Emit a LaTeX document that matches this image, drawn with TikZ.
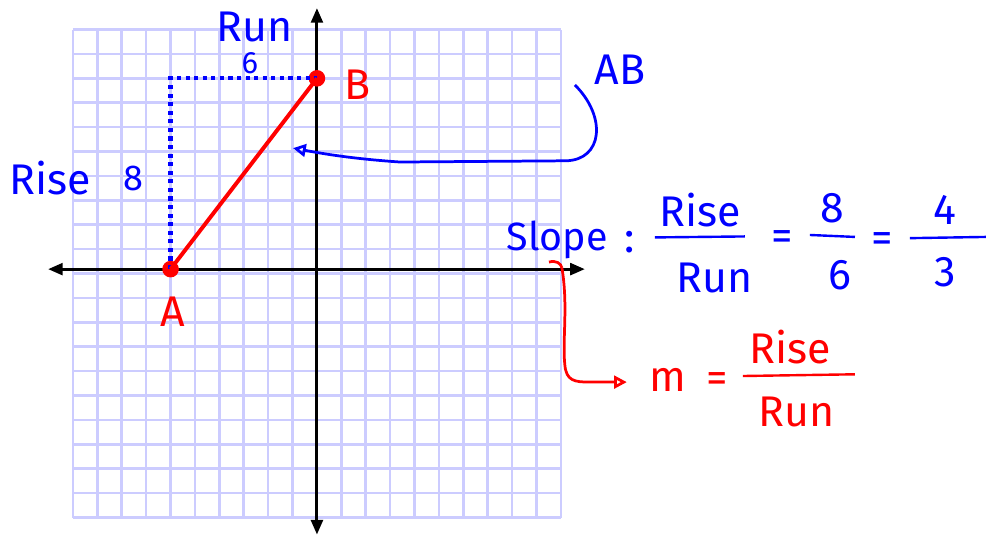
\documentclass[tikz,border=0pt]{standalone}
\usepackage{fontspec}
\setmainfont{Fira Sans}
\usetikzlibrary{arrows.meta,positioning}
\definecolor{gridblue}{RGB}{204,204,255}

\begin{document}
\begin{tikzpicture}[
  x=0.5cm, y=0.5cm,
  gridline/.style={gridblue, line width=1.5pt},
  axis/.style={line width=1.8pt, {Triangle[length=3mm,width=2.4mm]}-{Triangle[length=3mm,width=2.4mm]}},
  dotpt/.style={circle, fill=red, inner sep=0pt, minimum size=3.4mm},
  bluetext/.style={text=blue, inner sep=1pt, font=\fontsize{25}{28}\selectfont},
  redtext/.style={text=red, inner sep=1pt, font=\fontsize{25}{28}\selectfont},
  smalltext/.style={text=blue, inner sep=1pt, font=\fontsize{18}{22}\selectfont},
  fracbar/.style={line width=1.4pt},
  dots/.style={blue, line width=2.4pt, dash pattern=on 2.4pt off 2.6pt},
  pen/.style={line width=1.6pt}
]
  \useasboundingbox (-12.99,-10.76) rectangle (27.42,11.21);

  % grid
  \foreach \i in {-10,...,10} {
    \draw[gridline] (\i,-10) -- (\i,10);
    \draw[gridline] (-10,\i) -- (10,\i);
  }

  % axes
  \coordinate (xl) at (-11.02,0.18);
  \coordinate (xr) at (10.98,0.18);
  \coordinate (yt) at (0,10.88);
  \coordinate (yb) at (0,-10.7);
  \draw[axis] (xl) -- (xr);
  \draw[axis] (yb) -- (yt);

  % points and run/rise
  \node[dotpt] (A) at (-6,0.18) {};
  \node[dotpt] (B) at (0,8) {};
  \coordinate (C) at (-6,8);
  \draw[dots] (A.center) -- (C) -- (B.center);
  \draw[red, line width=2.3pt] (A.center) -- (B.center);

  \node[redtext] (Alab) at (-5.9,-1.58) {A};
  \node[redtext] (Blab) at (1.68,7.73) {B};
  \node[bluetext] (runlab) at (-2.54,10.1) {Run};
  \node[smalltext] (runval) at (-2.75,8.6) {6};
  \node[bluetext] (riselab) at (-10.94,3.91) {Rise};
  \node[smalltext, font=\fontsize{21}{24}\selectfont] (riseval) at (-7.54,3.91) {8};

  % AB pointer
  \node[bluetext] (ABlab) at (12.42,8.34) {AB};
  \coordinate (ABtail) at (10.57,7.73);
  \coordinate (ABtip) at (-0.98,5.14);
  \draw[blue, pen, -{Triangle[open,length=2.6mm,width=2.6mm]}] (ABtail)
    .. controls (11.9,6.4) and (11.7,4.65) .. (10.2,4.62) -- (3.4,4.57)
    .. controls (1.5,4.7) and (0.3,4.9) .. (ABtip);

  % slope
  \node[bluetext, font=\fontsize{23}{26}\selectfont] (slope) at (9.84,1.37) {Slope};
  \node[bluetext] (eq0) at (12.83,1.29) {:};
  \node[bluetext] (rise1) at (15.7,2.6) {Rise};
  \node[bluetext] (run1) at (16.31,-0.18) {Run};
  \draw[blue, fracbar] (13.85,1.48) -- (17.54,1.52);
  \node[bluetext] (eq1) at (19.06,1.37) {=};
  \node[bluetext] (num2) at (21.11,2.68) {8};
  \node[bluetext] (den2) at (21.43,-0.06) {6};
  \draw[blue, fracbar] (20.2,1.58) -- (22.05,1.5);
  \node[bluetext] (eq2) at (23.16,1.29) {=};
  \node[bluetext] (num3) at (25.74,2.6) {4};
  \node[bluetext] (den3) at (25.74,0.06) {3};
  \draw[blue, fracbar] (24.3,1.45) -- (27.42,1.5);

  % m = rise/run
  \coordinate (mtail) at (10.04,0.23);
  \coordinate (mtip) at (12.7,-4.45);
  \draw[red, pen] (9.51,0.47) .. controls (9.8,0.55) and (10.0,0.42) .. (mtail);
  \draw[red, pen, -{Triangle[open,length=2.6mm,width=2.6mm]}] (mtail)
    .. controls (10.3,-1.3) and (10.05,-2.8) .. (10.16,-3.75)
    .. controls (10.22,-4.4) and (10.55,-4.45) .. (11.2,-4.45) -- (mtip);
  \node[redtext] (m) at (14.39,-4.36) {m};
  \node[redtext] (eq3) at (16.39,-4.45) {=};
  \node[redtext] (rise2) at (19.39,-3.01) {Rise};
  \node[redtext] (run2) at (19.67,-5.68) {Run};
  \draw[red, fracbar] (17.46,-4.2) -- (22.05,-4.13);
\end{tikzpicture}
\end{document}
